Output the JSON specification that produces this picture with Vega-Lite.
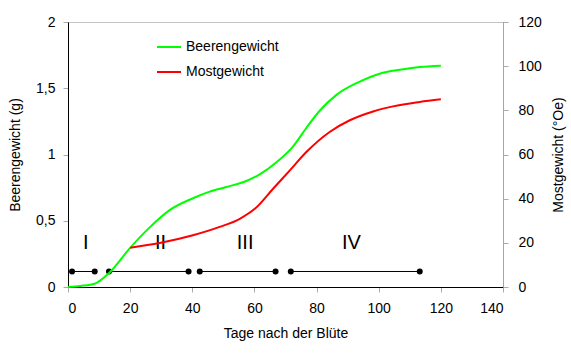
{
  "$schema": "https://vega.github.io/schema/vega-lite/v6.json",
  "width": 435,
  "height": 265,
  "autosize": "none",
  "padding": {"left": 68, "top": 22, "right": 68, "bottom": 67},
  "background": "white",
  "config": {
    "font": "Liberation Sans",
    "view": {"stroke": "#888888", "strokeDash": [1, 1], "strokeWidth": 1},
    "axis": {"labelFont": "Liberation Sans", "titleFont": "Liberation Sans", "labelFontSize": 14, "titleFontSize": 14, "labelColor": "black", "titleColor": "black", "titleFontWeight": "normal", "grid": false, "tickSize": 5, "tickColor": "#aaaaaa"}
  },
  "datasets": {
    "beere": [
      {"tag": 0, "wert": 0},
      {"tag": 4, "wert": 0.008},
      {"tag": 8.6, "wert": 0.025},
      {"tag": 13.4, "wert": 0.11},
      {"tag": 19.8, "wert": 0.29},
      {"tag": 26.3, "wert": 0.45},
      {"tag": 32.7, "wert": 0.58},
      {"tag": 40.2, "wert": 0.67},
      {"tag": 45.6, "wert": 0.72},
      {"tag": 51, "wert": 0.755},
      {"tag": 57.4, "wert": 0.8},
      {"tag": 61.7, "wert": 0.85},
      {"tag": 67, "wert": 0.94},
      {"tag": 72.4, "wert": 1.06},
      {"tag": 76.7, "wert": 1.2},
      {"tag": 81, "wert": 1.33},
      {"tag": 86.4, "wert": 1.45},
      {"tag": 93.9, "wert": 1.55},
      {"tag": 100.3, "wert": 1.61},
      {"tag": 106.8, "wert": 1.64},
      {"tag": 113.2, "wert": 1.66},
      {"tag": 120, "wert": 1.67}
    ],
    "most": [
      {"tag": 20, "wert": 17.8},
      {"tag": 29.5, "wert": 19.9},
      {"tag": 40.2, "wert": 23.4},
      {"tag": 48.8, "wert": 27.2},
      {"tag": 55.3, "wert": 30.9},
      {"tag": 60.6, "wert": 36},
      {"tag": 66, "wert": 44.5},
      {"tag": 71.4, "wert": 52.8},
      {"tag": 76.7, "wert": 61.1},
      {"tag": 84.2, "wert": 70.2},
      {"tag": 90.7, "wert": 75.5},
      {"tag": 98.2, "wert": 79.5},
      {"tag": 104.6, "wert": 81.8},
      {"tag": 113.2, "wert": 83.8},
      {"tag": 120, "wert": 85}
    ],
    "phasen": [
      {"phase": "I", "start": 1.3, "ende": 8.6, "hoehe": 0.117, "labelx": 5.7, "labely": 0.335},
      {"phase": "II", "start": 13.2, "ende": 38.8, "hoehe": 0.117, "labelx": 29.8, "labely": 0.335},
      {"phase": "III", "start": 42.4, "ende": 66.8, "hoehe": 0.117, "labelx": 57, "labely": 0.335},
      {"phase": "IV", "start": 71.7, "ende": 113.2, "hoehe": 0.117, "labelx": 91.2, "labely": 0.335}
    ]
  },
  "layer": [
    {
      "layer": [
        {
          "data": {"name": "phasen"},
          "mark": {"type": "rule", "color": "black", "strokeWidth": 1},
          "encoding": {
            "x": {"field": "start", "type": "quantitative"},
            "x2": {"field": "ende"},
            "y": {"field": "hoehe", "type": "quantitative"}
          }
        },
        {
          "data": {"name": "phasen"},
          "transform": [{"fold": ["start", "ende"], "as": ["art", "punkt"]}],
          "mark": {"type": "point", "filled": true, "color": "black", "size": 36, "opacity": 1},
          "encoding": {
            "x": {"field": "punkt", "type": "quantitative"},
            "y": {"field": "hoehe", "type": "quantitative"}
          }
        },
        {
          "data": {"name": "phasen"},
          "mark": {"type": "text", "fontSize": 20, "font": "Liberation Sans", "color": "black", "baseline": "middle", "align": "center"},
          "encoding": {
            "x": {"field": "labelx", "type": "quantitative"},
            "y": {"field": "labely", "type": "quantitative"},
            "text": {"field": "phase"}
          }
        },
        {
          "data": {"name": "beere"},
          "mark": {"type": "line", "interpolate": "monotone", "strokeWidth": 2},
          "encoding": {
            "x": {
              "field": "tag", "type": "quantitative",
              "scale": {"domain": [0, 140], "nice": false},
              "axis": {"title": "Tage nach der Blüte", "values": [0, 20, 40, 60, 80, 100, 120, 140], "domainColor": "black", "labelPadding": 9, "titleX": 217.5, "titleY": 46, "titleBaseline": "middle", "titleAlign": "center"}
            },
            "y": {
              "field": "wert", "type": "quantitative",
              "scale": {"domain": [0, 2], "nice": false},
              "axis": {"title": "Beerengewicht (g)", "orient": "left", "values": [0, 0.5, 1, 1.5, 2], "labelExpr": "replace(format(datum.value, '~g'), '.', ',')", "domainColor": "black", "labelPadding": 8, "titleX": -53, "titleY": 132.5, "titleBaseline": "middle", "titleAlign": "center", "titleAngle": 270}
            },
            "color": {
              "datum": "Beerengewicht", "type": "nominal",
              "scale": {"domain": ["Beerengewicht", "Mostgewicht"], "range": ["#00ff00", "#ff0000"]},
              "legend": {"title": null, "orient": "none", "legendX": 88, "legendY": 12, "symbolType": "stroke", "symbolSize": 576, "symbolStrokeWidth": 2, "labelFontSize": 14, "labelFont": "Liberation Sans", "labelColor": "black", "labelOffset": 4, "padding": 0, "rowPadding": 5, "symbolOffset": 0}
            }
          }
        }
      ]
    },
    {
      "data": {"name": "most"},
      "mark": {"type": "line", "interpolate": "monotone", "strokeWidth": 2},
      "encoding": {
        "x": {"field": "tag", "type": "quantitative"},
        "y": {
          "field": "wert", "type": "quantitative",
          "scale": {"domain": [0, 120], "nice": false},
          "axis": {"title": "Mostgewicht (°Oe)", "orient": "right", "values": [0, 20, 40, 60, 80, 100, 120], "domainColor": "#888888", "domainDash": [1, 1], "labelPadding": 10, "titleX": 55, "titleY": 132.5, "titleBaseline": "middle", "titleAlign": "center", "titleAngle": 270}
        },
        "color": {"datum": "Mostgewicht", "type": "nominal"}
      }
    }
  ],
  "resolve": {"scale": {"y": "independent"}}
}
